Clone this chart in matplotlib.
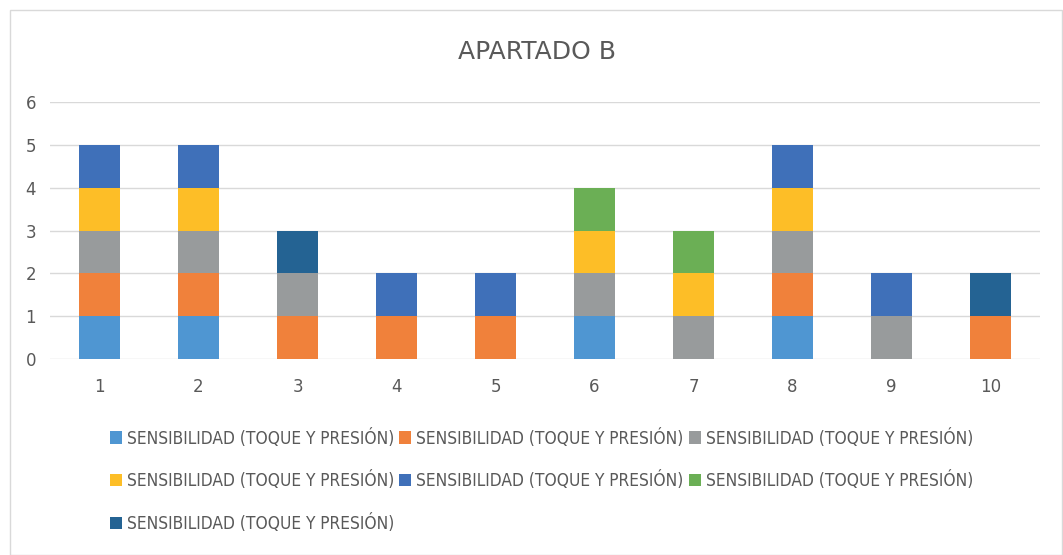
import matplotlib
matplotlib.use("Agg")
import matplotlib.pyplot as plt
from matplotlib.patches import Rectangle
from matplotlib.font_manager import fontManager, FontProperties

categories = ["1", "2", "3", "4", "5", "6", "7", "8", "9", "10"]
series_names = ["SENSIBILIDAD (TOQUE Y PRESIÓN)"] * 7
s1 = [1, 1, 0, 0, 0, 1, 0, 1, 0, 0]
s2 = [1, 1, 1, 1, 1, 0, 0, 1, 0, 1]
s3 = [1, 1, 1, 0, 0, 1, 1, 1, 1, 0]
s4 = [1, 1, 0, 0, 0, 1, 1, 1, 0, 0]
s5 = [1, 1, 0, 1, 1, 0, 0, 1, 1, 0]
s6 = [0, 0, 0, 0, 0, 1, 1, 0, 0, 0]
s7 = [0, 0, 1, 0, 0, 0, 0, 0, 0, 1]
series = [s1, s2, s3, s4, s5, s6, s7]
colors = ["#4F96D2", "#F0813B", "#989B9C", "#FDBE27", "#3F70B9", "#6BAF55", "#246393"]

plt.rcParams["font.family"] = ["DejaVu Sans"]
has_cond = any(f.name == "DejaVu Sans" and str(f.stretch) in ("condensed", "semi-condensed")
               for f in fontManager.ttflist)
leg_font = FontProperties(family="DejaVu Sans", stretch="condensed" if has_cond else "normal",
                          size=12.4 if has_cond else 10.8)

fig = plt.figure(figsize=(10.63, 5.55), dpi=100)
ax = fig.add_axes([50 / 1063, 1 - 359 / 555, 990 / 1063, 257 / 555])

x = list(range(1, len(categories) + 1))
bottom = [0] * len(categories)
handles = []
for vals, c, n in zip(series, colors, series_names):
    b = ax.bar(x, vals, bottom=bottom, width=0.41, color=c, label=n, zorder=3)
    handles.append(b)
    bottom = [bb + v for bb, v in zip(bottom, vals)]

ax.set_xlim(0.5, 10.5)
ax.set_ylim(0, 6)
ax.set_yticks(range(0, 7))
ax.set_xticks(x)
ax.set_xticklabels(categories)
ax.grid(axis="y", color="#D9D9D9", linewidth=1, zorder=0)
for s in ax.spines.values():
    s.set_visible(False)
ax.tick_params(length=0, colors="#595959", labelsize=12)
ax.tick_params(axis="x", pad=14)
ax.tick_params(axis="y", pad=10)

fig.text(537 / 1063, 1 - 52 / 555, "APARTADO B", ha="center", va="center",
         fontsize=18, color="#595959")

order = [0, 3, 6, 1, 4, 2, 5]
leg = fig.legend([handles[i] for i in order], [series_names[i] for i in order],
                 ncol=3, loc="upper left", bbox_to_anchor=(94 / 1063, 1 - 413 / 555),
                 frameon=False, prop=leg_font, handlelength=0.7, handleheight=0.7,
                 handletextpad=0.3, columnspacing=0.3, labelspacing=1.38,
                 labelcolor="#595959")

fig.patches.append(Rectangle((10 / 1063, 0), 1 - 10 / 1063 - 0.001, 1 - 10 / 555,
                             transform=fig.transFigure, fill=False,
                             edgecolor="#D9D9D9", linewidth=1))

fig.savefig("out.png", dpi=100)
